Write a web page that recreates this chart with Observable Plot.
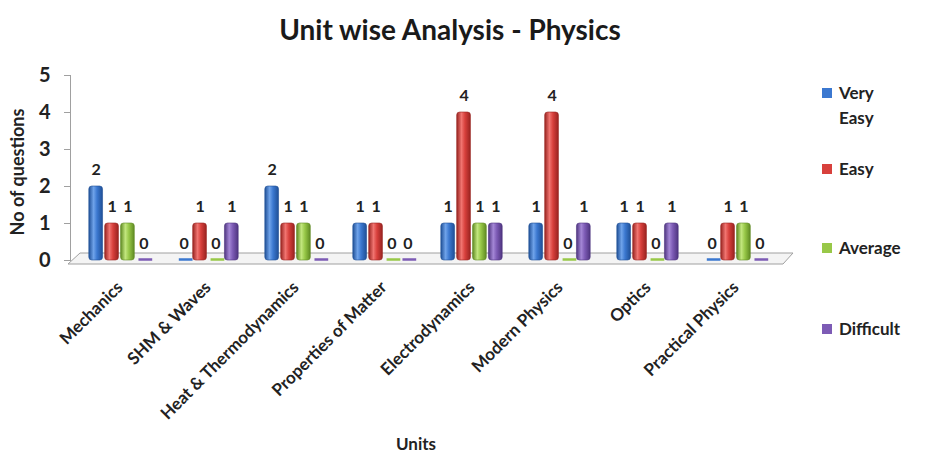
<!DOCTYPE html>
<html><head><meta charset="utf-8">
<script src="https://cdn.jsdelivr.net/npm/d3@7"></script>
<script src="https://cdn.jsdelivr.net/npm/@observablehq/plot@0.6"></script>
<style>
body{margin:0;background:#fff;font-family:Lato,"Open Sans",sans-serif;color:#222}
#wrap{position:relative;width:926px;height:457px;overflow:hidden;background:#fff}
#title{position:absolute;left:0;width:900px;top:12px;text-align:center;font-size:28px;font-weight:bold;color:#1a1a1a}
#ylab{position:absolute;left:17px;top:172px;transform:translate(-50%,-50%) rotate(-90deg);font-size:18px;font-weight:bold;white-space:nowrap}
#xlab{position:absolute;left:416px;top:443px;transform:translate(-50%,-50%);font-size:17px;font-weight:bold}
.leg{position:absolute;left:822px;font-size:17px;font-weight:bold;line-height:25px}
.leg .sw{position:absolute;left:0;top:8px;width:10px;height:10px}
.leg .tx{position:absolute;left:17px;top:0;white-space:nowrap}
#plot{position:absolute;left:0;top:0}
</style></head>
<body><div id="wrap"><div id="plot"></div><div id="title"></div><div id="ylab"></div><div id="xlab"></div></div>
<script>
const units = ["Mechanics","SHM & Waves","Heat & Thermodynamics","Properties of Matter","Electrodynamics","Modern Physics","Optics","Practical Physics"];
const series = ["Very Easy","Easy","Average","Difficult"];
const veryEasy = [2,0,2,1,1,1,1,0];
const easy     = [1,1,1,1,4,4,1,1];
const average  = [1,0,1,0,1,0,0,1];
const difficult= [0,1,0,0,1,1,1,0];
const yTicks = [0,1,2,3,4,5];
const colors = ["#3b78d0","#d8403c","#98c848","#7d5bb5"];
const darks  = ["#1f4f96","#982320","#5f8a22","#4e347f"];
const lights = ["#6fa3ea","#f07470","#c2e67e","#a487d6"];
const title = "Unit wise Analysis - Physics";
const yLabel = "No of questions";
const xLabel = "Units";

const values = [veryEasy, easy, average, difficult];
const rows = [];
values.forEach((arr, s) => arr.forEach((v, k) => rows.push({unit: units[k], s, v})));

const W = 926, H = 457, mL = 70, mR = 141, mT = 75, mB = 197;
const pIn = 0.28, pOut = 0.19;
const step = (W - mL - mR) / (units.length - pIn + 2 * pOut);
const bw = step * (1 - pIn), slot = bw / 4;

const marks = [
  Plot.frame({anchor: "left", stroke: "#a0a0a0"}),
  Plot.axisY({ticks: yTicks, tickFormat: d3.format("d"), tickSize: 6, tickPadding: 14, fontSize: 20, fontWeight: "bold", stroke: "#a0a0a0", fill: "#222", label: null}),
  Plot.axisX({tickSize: 0, tickPadding: 24, tickRotate: -45, fontSize: 17, fontWeight: "bold", fill: "#222", label: null})
];
series.forEach((name, i) => {
  const data = rows.filter(d => d.s === i);
  const inL = i * slot + 0.8, inR = (3 - i) * slot + 0.8;
  marks.push(Plot.barY(data.filter(d => d.v > 0), {x: "unit", y: "v", fill: `url(#g${i})`, stroke: darks[i], strokeWidth: 0.6, insetLeft: inL, insetRight: inR, rx: 3}));
  marks.push(Plot.tickY(data.filter(d => d.v === 0), {x: "unit", y: "v", stroke: colors[i], strokeWidth: 2.5, insetLeft: inL + 2, insetRight: inR - 2, dy: -1}));
  marks.push(Plot.text(data, {x: "unit", y: "v", text: d => String(d.v), dx: (i - 1.5) * slot, dy: -17, fontSize: 16, fontWeight: "bold", fill: "#222"}));
});

const chart = Plot.plot({
  width: W, height: H, marginLeft: mL, marginRight: mR, marginTop: mT, marginBottom: mB,
  style: {fontFamily: "Lato, 'Open Sans', sans-serif", background: "transparent"},
  x: {domain: units, paddingInner: pIn, paddingOuter: pOut, axis: null},
  y: {domain: [0, 5], axis: null},
  marks
});
document.getElementById("plot").appendChild(chart);

// gradients for cylinder look and 3D floor
const svg = d3.select(chart);
const defs = svg.insert("defs", ":first-child");
colors.forEach((c, i) => {
  const g = defs.append("linearGradient").attr("id", `g${i}`).attr("x1", 0).attr("x2", 1).attr("y1", 0).attr("y2", 0);
  g.append("stop").attr("offset", "0%").attr("stop-color", darks[i]);
  g.append("stop").attr("offset", "35%").attr("stop-color", lights[i]);
  g.append("stop").attr("offset", "60%").attr("stop-color", c);
  g.append("stop").attr("offset", "100%").attr("stop-color", darks[i]);
});
const y0 = chart.scale("y").apply(0);
const xl = mL, xr = W - mR;
svg.insert("path", "g")
  .attr("d", `M${xl - 2},${y0 + 4}L${xr - 2},${y0 + 4}L${xr + 8},${y0 - 7}L${xl + 10},${y0 - 7}Z`)
  .attr("fill", "#f4f4f4").attr("stroke", "#a0a0a0").attr("stroke-width", 1);

document.getElementById("title").textContent = title;
document.getElementById("ylab").textContent = yLabel;
document.getElementById("xlab").textContent = xLabel;

const legTops = [80, 156, 235, 316];
const wrap = document.getElementById("wrap");
series.forEach((name, i) => {
  const d = document.createElement("div");
  d.className = "leg"; d.style.top = legTops[i] + "px";
  const sw = document.createElement("div"); sw.className = "sw"; sw.style.background = colors[i];
  const tx = document.createElement("div"); tx.className = "tx";
  name.split(" ").forEach((w, k) => { if (k) tx.appendChild(document.createElement("br")); tx.appendChild(document.createTextNode(w)); });
  d.appendChild(sw); d.appendChild(tx); wrap.appendChild(d);
});
</script></body></html>
